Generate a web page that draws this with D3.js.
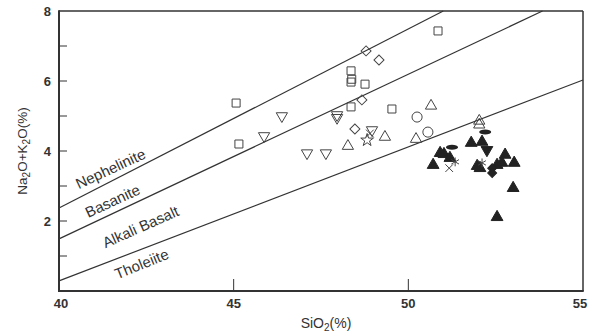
<!DOCTYPE html>
<html>
<head>
<meta charset="utf-8">
<script src="https://cdn.jsdelivr.net/npm/d3@7"></script>
<style>
  body { margin: 0; background: #fff; }
  svg text { font-family: "Liberation Sans", Arial, sans-serif; fill: #333; }
</style>
</head>
<body>
<div id="chart"></div>
<script>
// ---- data (SiO2 %, Na2O+K2O %) ----
const openSquares = [[45.07, 5.37], [45.15, 4.2], [50.85, 7.43], [48.36, 6.29], [48.36, 5.97], [48.38, 6.05], [48.76, 5.91], [48.36, 5.26], [49.53, 5.2]];
const openDiamonds = [[48.79, 6.86], [49.16, 6.6], [48.67, 5.46], [48.47, 4.63]];
const openDownTriangles = [[46.38, 5.0], [45.87, 4.43], [47.96, 5.03], [47.96, 4.95], [47.1, 3.94], [47.64, 3.94], [48.96, 4.6]];
const openUpTriangles = [[48.27, 4.14], [49.33, 4.4], [50.65, 5.29], [50.22, 4.34], [52.03, 4.86], [52.03, 4.75]];
const openCircles = [[50.25, 4.97], [50.56, 4.54]];
const openStars = [[48.82, 4.31]];
const crosses = [[48.9, 4.5], [51.17, 3.51]];
const filledUpTriangles = [[51.8, 4.23], [52.11, 4.26], [50.91, 3.94], [51.02, 3.91], [50.71, 3.6], [51.19, 3.8],
  [51.97, 3.57], [52.05, 3.51], [52.54, 3.6], [52.77, 3.89], [52.68, 3.66], [53.03, 3.66], [53.0, 2.94], [52.54, 2.11]];
const filledDownTriangles = [[52.25, 4.03]];
const filledDiamonds = [[52.4, 3.51], [52.4, 3.37]];
const filledOvals = [[52.2, 4.54], [51.25, 4.11]];
const filledStars = [[51.34, 3.69], [52.11, 3.66]];

// field boundaries
const boundaries = [
  [[40, 2.37], [51.0, 8]],
  [[40, 1.49], [53.84, 8]],
  [[40, 0.29], [55, 6.03]]
];
const fieldLabels = [
  { text: 'Nephelinite', x: 41.49, y: 3.46, angle: -25 },
  { text: 'Basanite', x: 41.55, y: 2.54, angle: -25 },
  { text: 'Alkali Basalt', x: 42.35, y: 1.8, angle: -24 },
  { text: 'Tholeiite', x: 42.38, y: 0.74, angle: -22 }
];
const xTickLabels = [40, 45, 50, 55];
const yTickLabels = [2, 4, 6, 8];
const yMinorTicks = [1, 3, 5, 7];

let svgWidth = 598, svgHeight = 335;
let padding = { left: 59, right: 15, top: 11, bottom: 44 };

let svg = d3.select('#chart').append('svg')
  .attr('width', svgWidth)
  .attr('height', svgHeight);

let x = d3.scaleLinear().domain([40, 55]).range([padding.left, svgWidth - padding.right]);
let y = d3.scaleLinear().domain([0, 8]).range([svgHeight - padding.bottom, padding.top]);

let ink = '#333';

// boundary lines
let line = d3.line().x(d => x(d[0])).y(d => y(d[1]));
svg.selectAll('path.boundary')
  .data(boundaries)
  .enter().append('path')
  .attr('class', 'boundary')
  .attr('d', d => line(d))
  .attr('fill', 'none')
  .attr('stroke', ink)
  .attr('stroke-width', 1.2);

// field names
svg.selectAll('text.field')
  .data(fieldLabels)
  .enter().append('text')
  .attr('class', 'field')
  .attr('text-anchor', 'middle')
  .attr('dominant-baseline', 'middle')
  .attr('font-size', '15px')
  .attr('transform', d => `translate(${x(d.x)},${y(d.y)}) rotate(${d.angle})`)
  .text(d => d.text);

// frame
let x0 = x(40), x1 = x(55), y0 = y(0), y1 = y(8);
svg.append('line').attr('x1', x0).attr('x2', x1).attr('y1', y1).attr('y2', y1).attr('stroke', ink).attr('stroke-width', 1.5);
svg.append('line').attr('x1', x1).attr('x2', x1).attr('y1', y1).attr('y2', y0).attr('stroke', ink).attr('stroke-width', 1.5);
svg.append('line').attr('x1', x0 - 1).attr('x2', x1 + 0.75).attr('y1', y0).attr('y2', y0).attr('stroke', ink).attr('stroke-width', 2);
svg.append('line').attr('x1', x0).attr('x2', x0).attr('y1', y1 - 0.75).attr('y2', y0).attr('stroke', ink).attr('stroke-width', 2);

// ticks (pointing inward)
svg.selectAll('line.ytick')
  .data(yTickLabels.concat(yMinorTicks).filter(d => d < 8))
  .enter().append('line')
  .attr('class', 'ytick')
  .attr('x1', x0).attr('x2', x0 + 8)
  .attr('y1', d => y(d)).attr('y2', d => y(d))
  .attr('stroke', ink).attr('stroke-width', 1);
svg.selectAll('line.xtick')
  .data([45, 50])
  .enter().append('line')
  .attr('class', 'xtick')
  .attr('x1', d => x(d)).attr('x2', d => x(d))
  .attr('y1', y0).attr('y2', y0 - 12)
  .attr('stroke', ink).attr('stroke-width', 1);

svg.selectAll('text.xlab')
  .data(xTickLabels)
  .enter().append('text')
  .attr('class', 'xlab')
  .attr('x', d => x(d) + (d === 55 ? -3 : d === 40 ? 2 : 0))
  .attr('y', y0 + 17)
  .attr('text-anchor', 'middle')
  .attr('font-size', '13px')
  .attr('font-weight', '600')
  .text(d => d);
svg.selectAll('text.ylab')
  .data(yTickLabels)
  .enter().append('text')
  .attr('class', 'ylab')
  .attr('x', x0 - 8)
  .attr('y', d => y(d) + 4.5)
  .attr('text-anchor', 'end')
  .attr('font-size', '13px')
  .attr('font-weight', '600')
  .text(d => d);

// axis titles
let xt = svg.append('text')
  .attr('x', (x0 + x1) / 2 + 5)
  .attr('y', y0 + 37)
  .attr('text-anchor', 'middle')
  .attr('font-size', '14px');
xt.append('tspan').text('SiO');
xt.append('tspan').attr('font-size', '10px').attr('dy', 3).text('2');
xt.append('tspan').attr('dy', -3).text('(%)');

let yt = svg.append('text')
  .attr('transform', `translate(${x0 - 32},${(y0 + y1) / 2}) rotate(-90)`)
  .attr('text-anchor', 'middle')
  .attr('font-size', '13.5px');
yt.append('tspan').text('Na');
yt.append('tspan').attr('font-size', '10px').attr('dy', 3).text('2');
yt.append('tspan').attr('dy', -3).text('O+K');
yt.append('tspan').attr('font-size', '10px').attr('dy', 3).text('2');
yt.append('tspan').attr('dy', -3).text('O(%)');

// markers
function drawSymbols(data, type, size, filled, rot) {
  let sym = d3.symbol().type(type).size(size);
  svg.append('g').selectAll('path')
    .data(data)
    .enter().append('path')
    .attr('d', sym)
    .attr('transform', d => `translate(${x(d[0])},${y(d[1])}) rotate(${rot || 0})`)
    .attr('fill', filled ? '#222' : 'none')
    .attr('stroke', filled ? '#222' : '#444')
    .attr('stroke-width', 1);
}

drawSymbols(openSquares, d3.symbolSquare, 64, false);
drawSymbols(openDiamonds, d3.symbolSquare, 50, false, 45);
drawSymbols(openDownTriangles, d3.symbolTriangle, 55, false, 180);
drawSymbols(openUpTriangles, d3.symbolTriangle, 55, false);
drawSymbols(openCircles, d3.symbolCircle, 80, false);
drawSymbols(openStars, d3.symbolStar, 50, false);
drawSymbols(crosses, d3.symbolTimes, 40, false);
drawSymbols(filledUpTriangles, d3.symbolTriangle, 60, true);
drawSymbols(filledDownTriangles, d3.symbolTriangle, 60, true, 180);
drawSymbols(filledDiamonds, d3.symbolSquare, 40, true, 45);
drawSymbols(filledStars, d3.symbolAsterisk, 55, false);

// flat ovals
svg.append('g').selectAll('ellipse')
  .data(filledOvals)
  .enter().append('ellipse')
  .attr('cx', d => x(d[0]))
  .attr('cy', d => y(d[1]))
  .attr('rx', 6)
  .attr('ry', 2.5)
  .attr('fill', '#222');
</script>
</body>
</html>
